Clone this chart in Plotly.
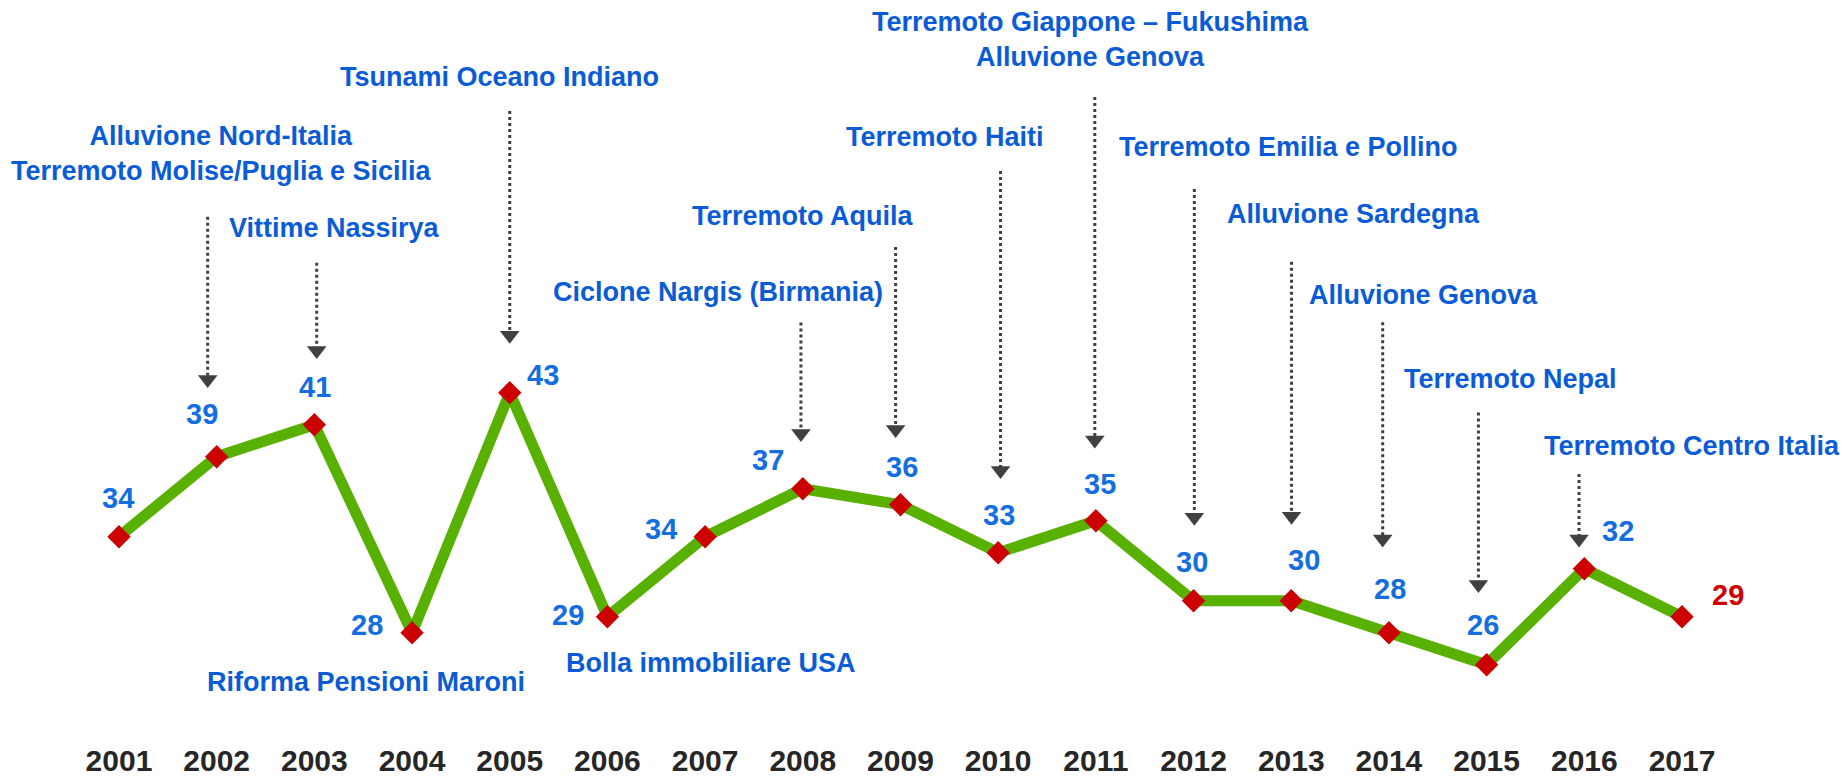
import plotly.graph_objects as go

# ---------------- data ----------------
years = [2001, 2002, 2003, 2004, 2005, 2006, 2007, 2008, 2009,
         2010, 2011, 2012, 2013, 2014, 2015, 2016, 2017]
values = [34, 39, 41, 28, 43, 29, 34, 37, 36, 33, 35, 30, 30, 28, 26, 32, 29]
year_labels = [str(y) for y in years]

# events above the line (with arrows) and below the line (no arrow)
event_years = [2002, 2003, 2005, 2008, 2009, 2010, 2011, 2012, 2013, 2014, 2015, 2016]
event_texts = [
    "Alluvione Nord-Italia<br>Terremoto Molise/Puglia e Sicilia",
    "Vittime Nassirya",
    "Tsunami Oceano Indiano",
    "Ciclone Nargis (Birmania)",
    "Terremoto Aquila",
    "Terremoto Haiti",
    "Terremoto Giappone – Fukushima<br>Alluvione Genova",
    "Terremoto Emilia e Pollino",
    "Alluvione Sardegna",
    "Alluvione Genova",
    "Terremoto Nepal",
    "Terremoto Centro Italia",
]
low_event_years = [2004, 2006]
low_event_texts = ["Riforma Pensioni Maroni", "Bolla immobiliare USA"]

# ---------------- layout config (positions / styles) ----------------
W, H = 1847, 778
MB = 38
PX_PER_UNIT = 16.0
X0, X1 = 1999.782, 2018.689
Y1 = 67.544
Y0 = Y1 - (H - MB) / PX_PER_UNIT

BLUE_EVT = "#0a5cd6"
BLUE_NUM = "#146ee0"
RED = "#cc0000"
GREEN = "#58b000"
ARROW = "#404040"
FONT = "Liberation Sans, Arial, sans-serif"

# value label pixel offsets (dx, dy up) relative to each point
label_shift = [(-1, 39), (-15, 43), (1, 38), (-45, 8), (33, 18), (-39, 2),
               (-44, 8), (-35, 29), (2, 38), (1, 38), (4, 37), (-2, 39),
               (13, 41), (1, 44), (-4, 40), (34, 38), (46, 22)]

# event text centre (x in years, y in value units)
event_pos = [(2002.054, 57.96), (2003.201, 53.29), (2004.895, 62.73),
             (2007.136, 49.30), (2008.0, 54.04), (2009.455, 58.98),
             (2010.95, 65.07), (2012.972, 58.33), (2013.634, 54.20),
             (2014.357, 49.11), (2015.249, 43.84), (2018.635, 39.67)]
event_anchor = ["center"] * 11 + ["right"]
low_event_pos = [(2003.526, 24.95), (2007.065, 26.09)]

# arrows: x offset from year, top and tip in value units
arrow_dx = [-0.092, 0.024, 0.0, -0.019, -0.05, 0.024, -0.011, 0.008, 0.003, -0.064, -0.084, -0.054]
arrow_top = [54.00, 51.12, 60.61, 47.38, 52.11, 56.86, 61.48, 55.73, 51.19, 47.40, 41.76, 37.92]
arrow_tip = [43.29, 45.11, 46.06, 39.92, 40.17, 37.61, 39.51, 34.68, 34.75, 33.33, 30.48, 33.33]
HEAD = 17  # marker size of arrow head

fig = go.Figure()

# main line
fig.add_trace(go.Scatter(
    x=years, y=values, mode="lines+markers",
    line=dict(color=GREEN, width=11),
    marker=dict(symbol="diamond", size=18, color=RED),
    hoverinfo="x+y", showlegend=False,
))

# arrows
shapes = []
ax_list, ay_list = [], []
for ey, dx, top, tip in zip(event_years, arrow_dx, arrow_top, arrow_tip):
    xa = ey + dx
    shapes.append(dict(type="line", xref="x", yref="y", x0=xa, x1=xa,
                       y0=top, y1=tip + 10 / PX_PER_UNIT,
                       line=dict(color=ARROW, width=3, dash="dot")))
    ax_list.append(xa)
    ay_list.append(tip + (HEAD / 2) / PX_PER_UNIT)

fig.add_trace(go.Scatter(
    x=ax_list, y=ay_list, mode="markers",
    marker=dict(symbol="triangle-down", size=HEAD, color=ARROW),
    hoverinfo="skip", showlegend=False,
))

annotations = []
# value labels
for i, (yr, v) in enumerate(zip(years, values)):
    dx, dy = label_shift[i]
    col = RED if i == len(years) - 1 else BLUE_NUM
    annotations.append(dict(
        x=yr, y=v, xref="x", yref="y", text=f"<b>{v}</b>", showarrow=False,
        xshift=dx, yshift=dy, font=dict(family=FONT, size=29, color=col),
        xanchor="center", yanchor="middle",
    ))
# event labels
for txt, (ex, ey), anc in zip(event_texts, event_pos, event_anchor):
    annotations.append(dict(
        x=ex, y=ey, xref="x", yref="y", text=f"<b>{txt}</b>", showarrow=False,
        font=dict(family=FONT, size=27, color=BLUE_EVT),
        xanchor=anc, yanchor="middle", align="center",
    ))
for txt, (ex, ey) in zip(low_event_texts, low_event_pos):
    annotations.append(dict(
        x=ex, y=ey, xref="x", yref="y", text=f"<b>{txt}</b>", showarrow=False,
        font=dict(family=FONT, size=27, color=BLUE_EVT),
        xanchor="center", yanchor="middle",
    ))

fig.update_layout(
    width=W, height=H,
    margin=dict(l=0, r=0, t=0, b=MB, autoexpand=False),
    paper_bgcolor="white", plot_bgcolor="white",
    shapes=shapes, annotations=annotations,
    xaxis=dict(range=[X0, X1], tickvals=years,
               ticktext=[f"<b>{t}</b>" for t in year_labels],
               tickfont=dict(family=FONT, size=30, color="#262626"),
               automargin=False,
               showgrid=False, zeroline=False, showline=False, ticks=""),
    yaxis=dict(range=[Y0, Y1], visible=False, showgrid=False, zeroline=False,
               automargin=False),
    showlegend=False,
)

fig.write_html(
    "out.html",
    config={"displayModeBar": False},
    post_script="document.body.style.margin='0';document.body.style.overflow='hidden';",
)
